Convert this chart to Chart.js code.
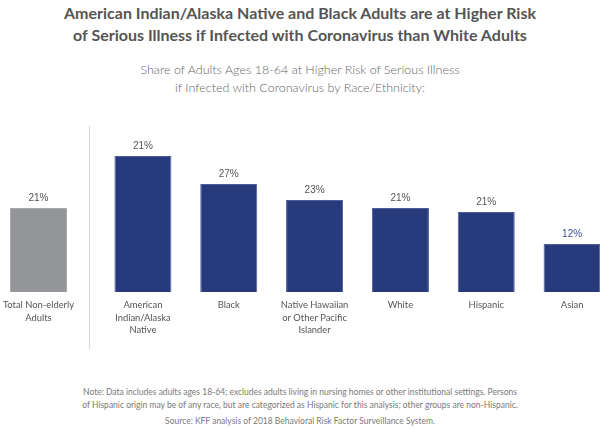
<!DOCTYPE html>
<html>
<head>
<meta charset="utf-8">
<script src="https://cdn.jsdelivr.net/npm/chart.js@4.4.0/dist/chart.umd.min.js"></script>
<style>
  html, body { margin: 0; padding: 0; background: #fff; overflow: hidden; }
  body { width: 600px; height: 429px; position: relative; font-family: Lato, "Open Sans", sans-serif; }
  .title { position: absolute; left: 0; width: 600px; top: 2px; text-align: center; font-weight: bold; font-size: 16px; line-height: 22px; color: #555; }
  .subtitle { position: absolute; left: 0; width: 600px; top: 61px; text-align: center; font-size: 12.5px; line-height: 18px; color: #666; font-weight: 300; }
  .note { position: absolute; left: 0; width: 600px; top: 386px; text-align: center; font-size: 8.5px; line-height: 13px; color: #7a7a7a; }
  .source { position: absolute; left: 0; width: 600px; top: 415px; text-align: center; font-size: 8.5px; line-height: 13px; color: #7a7a7a; }
  .divider { position: absolute; left: 89px; top: 126px; width: 1px; height: 223px; background: #d6d6d6; }
  #totalBox { position: absolute; left: -21px; top: 130px; width: 119px; height: 220px; }
  #mainBox { position: absolute; left: 100px; top: 130px; width: 515px; height: 220px; }
</style>
</head>
<body>
<div class="title">American Indian/Alaska Native and Black Adults are at Higher Risk<br>of Serious Illness if Infected with Coronavirus than White Adults</div>
<div class="subtitle">Share of Adults Ages 18-64 at Higher Risk of Serious Illness<br>if Infected with Coronavirus by Race/Ethnicity:</div>
<div class="divider"></div>
<div id="totalBox"><canvas id="totalChart"></canvas></div>
<div id="mainBox"><canvas id="mainChart"></canvas></div>
<div class="note">Note: Data includes adults ages 18-64; excludes adults living in nursing homes or other institutional settings. Persons<br>of Hispanic origin may be of any race, but are categorized as Hispanic for this analysis; other groups are non-Hispanic.</div>
<div class="source">Source: KFF analysis of 2018 Behavioral Risk Factor Surveillance System.</div>

<script>
// total bar
const totalLabels = [["Total Non-elderly", "Adults"]];
const totalValues = [21];
const totalText = ["21%"];

// groups by race/ethnicity
const groupLabels = [
  ["American", "Indian/Alaska", "Native"],
  "Black",
  ["Native Hawaiian", "or Other Pacific", "Islander"],
  "White",
  "Hispanic",
  "Asian",
];
const groupValues = [34, 27, 23, 21, 20, 12];
// value labels as printed on the chart
const groupText = ["21%", "27%", "23%", "21%", "21%", "12%"];
const groupTextColors = ["#555", "#555", "#555", "#555", "#555", "#3c4d94"];

const blue = "#263a7c";
const gray = "#939598";

// draws the % text above each bar
const valueLabels = {
  id: "valueLabels",
  afterDatasetsDraw(chart, args, opts) {
    const ctx = chart.ctx;
    const meta = chart.getDatasetMeta(0);
    ctx.save();
    ctx.font = "10px 'Liberation Sans', Arial, sans-serif";
    ctx.textAlign = "center";
    ctx.textBaseline = "middle";
    meta.data.forEach((bar, i) => {
      ctx.fillStyle = opts.colors[i];
      ctx.fillText(opts.text[i], bar.x, bar.y - 10);
    });
    ctx.restore();
  },
};

function makeOptions(barPct, text, colors) {
  return {
    responsive: true,
    maintainAspectRatio: false,
    animation: false,
    layout: { padding: { top: 2, left: 0, right: 0, bottom: 0 } },
    plugins: {
      legend: { display: false },
      tooltip: { enabled: false },
      valueLabels: { text: text, colors: colors },
    },
    datasets: { bar: { barPercentage: barPct, categoryPercentage: 1 } },
    scales: {
      x: {
        grid: { display: false, drawTicks: false },
        border: { display: false },
        ticks: {
          color: "#555",
          font: { family: "Lato", size: 9.4, lineHeight: 1.33 },
          autoSkip: false,
          maxRotation: 0,
          padding: 7,
        },
        afterFit(scale) {
          scale.height = 58;
        },
      },
      y: {
        display: false,
        min: 0,
        max: 40,
      },
    },
  };
}

new Chart(document.getElementById("totalChart"), {
  type: "bar",
  data: {
    labels: totalLabels,
    datasets: [{ data: totalValues, backgroundColor: gray, borderColor: "#a7a9ac", borderWidth: 1 }],
  },
  options: makeOptions(0.48, totalText, ["#555"]),
  plugins: [valueLabels],
});

new Chart(document.getElementById("mainChart"), {
  type: "bar",
  data: {
    labels: groupLabels,
    datasets: [{ data: groupValues, backgroundColor: blue, borderColor: "#4f5f9e", borderWidth: 1 }],
  },
  options: makeOptions(0.664, groupText, groupTextColors),
  plugins: [valueLabels],
});
</script>
</body>
</html>
